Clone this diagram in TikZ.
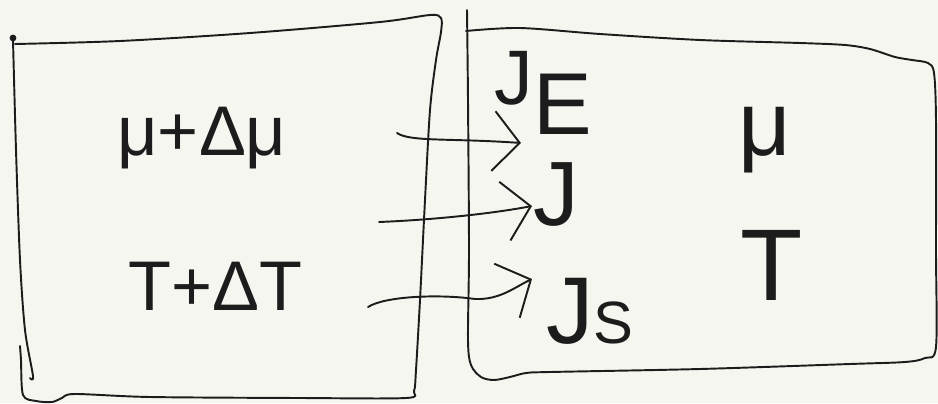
\documentclass[tikz,border=0pt]{standalone}
\usepackage{fontspec}
\setmainfont{Liberation Sans}
\usetikzlibrary{arrows.meta}
\definecolor{paper}{HTML}{F6F6F1}
\definecolor{ink}{HTML}{1C1C1C}
\newcommand\fsz[1]{\fontsize{#1}{#1}\selectfont}
\begin{document}
\begin{tikzpicture}[x=0.02cm,y=-0.02cm,
  pen/.style={ink,line width=1.1pt,line cap=round,line join=round},
  lbl/.style={ink,inner sep=0pt},
  flow/.style={pen,-{Straight Barb[length=15pt,width=34pt,line width=1.1pt]}}]
\fill[paper] (0,0) rectangle (938,403);
\useasboundingbox (0,0) rectangle (938,403);

% reservoir at mu + dmu, T + dT
\fill[ink] (13,38) circle (3.4);
\draw[pen] plot[smooth,tension=0.5] coordinates {(13,40) (16,150) (20,260) (25,330) (33,376) (30,378)};
\draw[pen] plot[smooth,tension=0.5] coordinates {(15,44) (120,41) (250,33) (380,22) (430,15) (441,18)
  (441,32) (436,60) (430,110) (425,200) (420,300) (416,370) (414,391) (406,398) (300,398) (150,397)
  (75,394) (62,398) (52,402) (36,401) (23,395) (21,360) (20,346)};

% reservoir at mu, T
\draw[pen] plot[smooth,tension=0.5] coordinates {(467,10) (468,100) (469,250) (468,340) (471,365)
  (481,377) (494,380) (510,377) (526,373) (550,372) (700,369) (850,364) (905,362) (925,358)
  (936,347) (936,250) (936,120) (934,73) (928,63) (912,60) (895,57) (870,49) (845,45) (800,43)
  (700,40) (600,34) (520,28) (466,31)};

% state labels
\node[lbl,anchor=base,font=\fsz{40}] (hotmu) at (202,155) {μ+Δμ};
\node[lbl,anchor=base,font=\fsz{40}] (hotT) at (215,310) {T+ΔT};
\node[lbl,anchor=base,font=\fsz{52}] (coldmu) at (765,155) {μ};
\node[lbl,anchor=base,font=\fsz{58}] (coldT) at (772,300) {T};

% currents
\node[lbl,anchor=base west,font=\fsz{44}] (JE) at (494,104) {J\raisebox{-17.5pt}{\fsz{50}E}};
\node[lbl,anchor=base west,font=\fsz{52}] (J) at (533,225) {J};
\node[lbl,anchor=base west,font=\fsz{54}] (JS) at (546,343) {J{\fsz{34}S}};

\coordinate (e1s) at (397,133);
\coordinate (e1t) at (521,143);
\coordinate (p2s) at (379,222);
\coordinate (p2t) at (532,206);
\coordinate (s3s) at (368,307);
\coordinate (s3t) at (532,279);

\draw[flow] (e1s) .. controls (410,142) and (450,138) .. (e1t);
\draw[flow] (p2s) .. controls (430,220) and (490,214) .. (p2t);
\draw[flow] (s3s) .. controls (385,296) and (440,294) .. (475,299) .. controls (500,300) and (515,287) .. (s3t);
\end{tikzpicture}
\end{document}
